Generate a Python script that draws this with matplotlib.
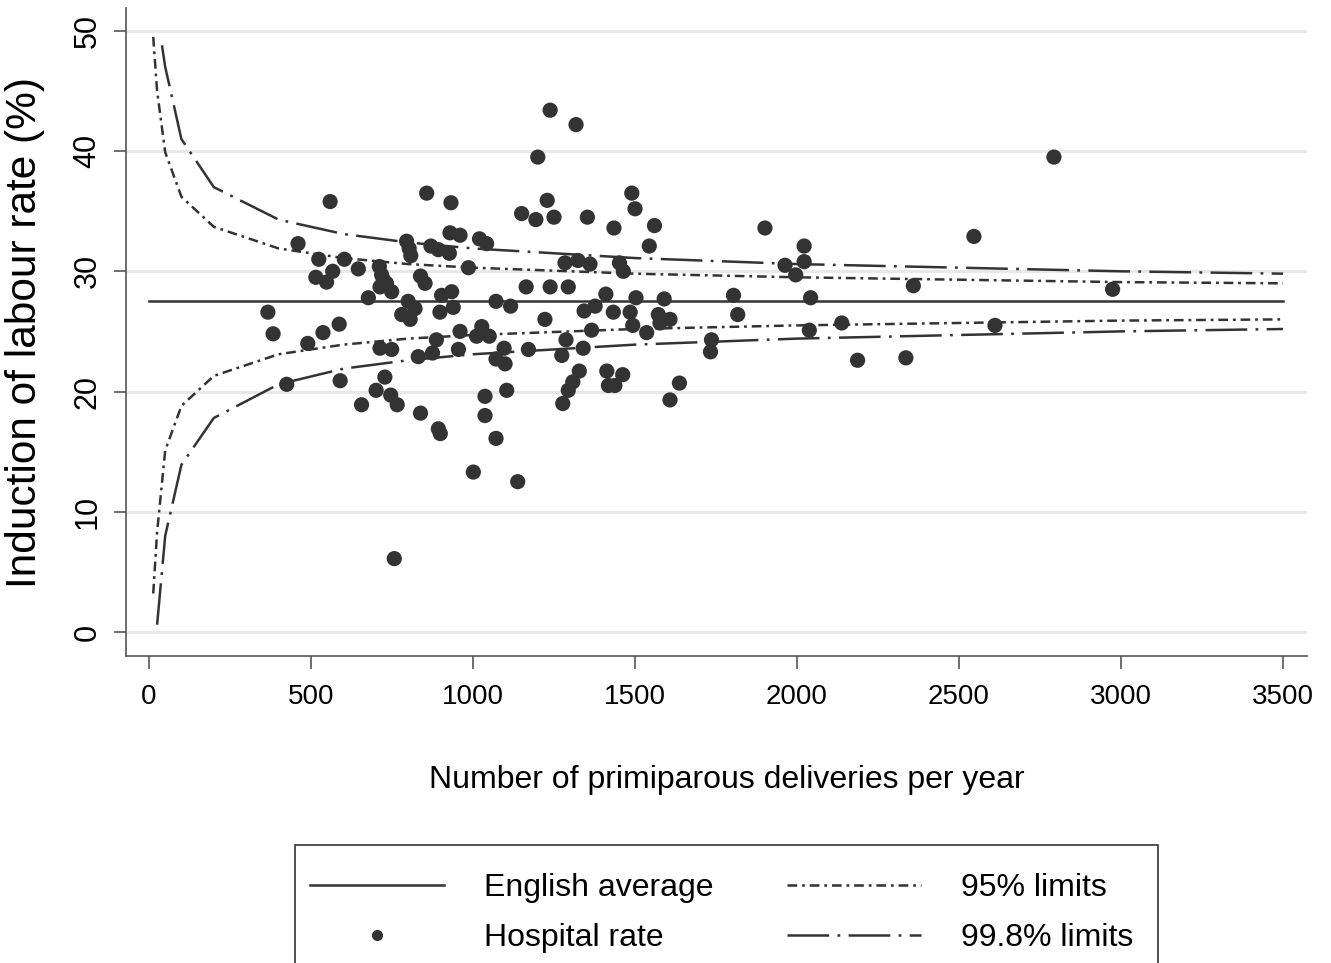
import matplotlib
matplotlib.use("Agg")
import matplotlib.pyplot as plt
from matplotlib.lines import Line2D
from matplotlib.patches import Rectangle

plt.rcParams['font.family'] = ['Liberation Sans', 'DejaVu Sans']
plt.rcParams['lines.scale_dashes'] = False

# Hospital rates (deliveries per year, induction rate %)
deliveries = [367, 383, 425, 460, 490, 515, 524, 537, 548, 559, 567, 587, 590, 603, 646,
              656, 677, 701, 711, 713, 713, 718, 723, 728, 733, 746, 749, 749, 757, 766,
              780, 795, 800, 803, 806, 808, 821, 831, 838, 838, 852, 857, 870, 875, 887,
              893, 893, 898, 899, 903, 927, 929, 932, 934, 939, 955, 960, 960, 986, 1001,
              1011, 1020, 1027, 1037, 1037, 1042, 1050, 1071, 1071, 1071, 1096, 1099, 1104, 1116, 1138,
              1150, 1164, 1171, 1194, 1200, 1222, 1229, 1238, 1238, 1250, 1274, 1277, 1284, 1287, 1294,
              1294, 1308, 1318, 1324, 1328, 1340, 1343, 1353, 1361, 1366, 1377, 1410, 1413, 1418, 1433,
              1435, 1438, 1452, 1462, 1464, 1485, 1490, 1493, 1500, 1503, 1536, 1544, 1560, 1572, 1577,
              1590, 1608, 1608, 1637, 1733, 1736, 1804, 1817, 1901, 1963, 1996, 2022, 2022, 2038, 2042,
              2138, 2187, 2336, 2359, 2546, 2611, 2793, 2974]
rates = [26.6, 24.8, 20.6, 32.3, 24.0, 29.5, 31.0, 24.9, 29.1, 35.8, 30.0, 25.6, 20.9, 31.0, 30.2,
         18.9, 27.8, 20.1, 30.4, 23.6, 28.7, 29.7, 29.3, 21.2, 29.0, 19.7, 28.3, 23.5, 6.1, 18.9,
         26.4, 32.5, 27.5, 31.9, 26.0, 31.3, 26.9, 22.9, 29.6, 18.2, 29.0, 36.5, 32.1, 23.2, 24.3,
         31.8, 16.9, 26.6, 16.5, 28.0, 31.5, 33.2, 35.7, 28.3, 27.0, 23.5, 33.0, 25.0, 30.3, 13.3,
         24.6, 32.7, 25.4, 19.6, 18.0, 32.3, 24.6, 27.5, 22.7, 16.1, 23.6, 22.3, 20.1, 27.1, 12.5,
         34.8, 28.7, 23.5, 34.3, 39.5, 26.0, 35.9, 43.4, 28.7, 34.5, 23.0, 19.0, 30.7, 24.3, 28.7,
         20.1, 20.8, 42.2, 30.9, 21.7, 23.6, 26.7, 34.5, 30.6, 25.1, 27.1, 28.1, 21.7, 20.5, 26.6,
         33.6, 20.5, 30.7, 21.4, 30.0, 26.6, 36.5, 25.5, 35.2, 27.8, 24.9, 32.1, 33.8, 26.4, 25.7,
         27.7, 26.0, 19.3, 20.7, 23.3, 24.3, 28.0, 26.4, 33.6, 30.5, 29.7, 32.1, 30.8, 25.1, 27.8,
         25.7, 22.6, 22.8, 28.8, 32.9, 25.5, 39.5, 28.5]

english_average = 27.5
avg_x = [0, 3500]

# control limits
x95 = [13, 25, 50, 100, 200, 400, 600, 800, 1000, 1500, 2000, 2500, 3000, 3500]
upper95 = [49.5, 45.0, 39.9, 36.2, 33.7, 31.9, 31.1, 30.6, 30.3, 29.8, 29.5, 29.3, 29.1, 29.0]
lower95 = [3.2, 8.3, 15.1, 18.8, 21.3, 23.1, 23.9, 24.4, 24.7, 25.2, 25.5, 25.7, 25.9, 26.0]

x998_up = [40, 50, 100, 200, 400, 600, 800, 1000, 1500, 2000, 2500, 3000, 3500]
upper998 = [48.8, 47.0, 41.0, 37.0, 34.3, 33.1, 32.4, 31.9, 31.1, 30.6, 30.3, 30.0, 29.8]
x998_lo = [25, 50, 100, 200, 400, 600, 800, 1000, 1500, 2000, 2500, 3000, 3500]
lower998 = [0.6, 8.0, 13.9, 17.8, 20.6, 21.9, 22.6, 23.1, 23.9, 24.4, 24.7, 25.0, 25.2]

dark = '#333333'
dash95 = (0, (7, 3.5, 2, 3.5))
dash998 = (0, (30, 6, 2, 6))

fig = plt.figure(figsize=(13.31, 9.63), dpi=100)
ax = fig.add_axes([126 / 1331, 1 - 656 / 963, (1307 - 126) / 1331, (656 - 8) / 963])

ax.plot(avg_x, [english_average, english_average], color=dark, lw=1.8)
ax.scatter(deliveries, rates, s=120, color=dark, edgecolors='none', zorder=3)
ax.plot(x95, upper95, color=dark, lw=1.8, linestyle=dash95)
ax.plot(x95, lower95, color=dark, lw=1.8, linestyle=dash95)
ax.plot(x998_up, upper998, color=dark, lw=1.8, linestyle=dash998)
ax.plot(x998_lo, lower998, color=dark, lw=1.8, linestyle=dash998)

ax.set_xlim(-71, 3574)
ax.set_ylim(-2.0, 51.9)
ax.set_xticks(range(0, 3501, 500))
ax.set_yticks(range(0, 51, 10))
ax.grid(axis='y', color='#e8e8e8', lw=2.2)
ax.set_axisbelow(True)
for s in ['top', 'right']:
    ax.spines[s].set_visible(False)
for s in ['left', 'bottom']:
    ax.spines[s].set_color('#555555')
    ax.spines[s].set_linewidth(1.2)
ax.tick_params(direction='out', length=9, width=1.2, color='#555555')
ax.tick_params(axis='x', labelsize=20, pad=11)
ax.tick_params(axis='y', labelsize=22, pad=8)
for lab in ax.get_yticklabels():
    lab.set_rotation(90)
    lab.set_va('center')

fig.text(25 / 1331, 1 - 332 / 963, 'Induction of labour rate (%)', rotation=90,
         ha='center', va='center', fontsize=30.5)
fig.text(727 / 1331, 1 - 780 / 963, 'Number of primiparous deliveries per year',
         ha='center', va='center', fontsize=23)

handles = [Line2D([], [], color=dark, lw=1.8),
           Line2D([], [], color=dark, marker='o', ls='none', ms=7),
           Line2D([], [], color=dark, lw=1.8, linestyle=dash95),
           Line2D([], [], color=dark, lw=1.8, linestyle=dash998)]
labels = ['English average', 'Hospital rate', '95% limits', '99.8% limits']
fig.legend(handles, labels, ncol=2, loc='upper left', frameon=False,
           bbox_to_anchor=(310 / 1331, 1 - 873 / 963), fontsize=23,
           borderaxespad=0, borderpad=0,
           handlelength=4.2, handletextpad=1.25, columnspacing=2.3, labelspacing=0.62)
fig.add_artist(Rectangle((295 / 1331, -0.05), (1158 - 295) / 1331, (963 - 845) / 963 + 0.05,
                         transform=fig.transFigure, fill=False, ec='#333333', lw=1.2))

fig.savefig('out.png', dpi=100)
